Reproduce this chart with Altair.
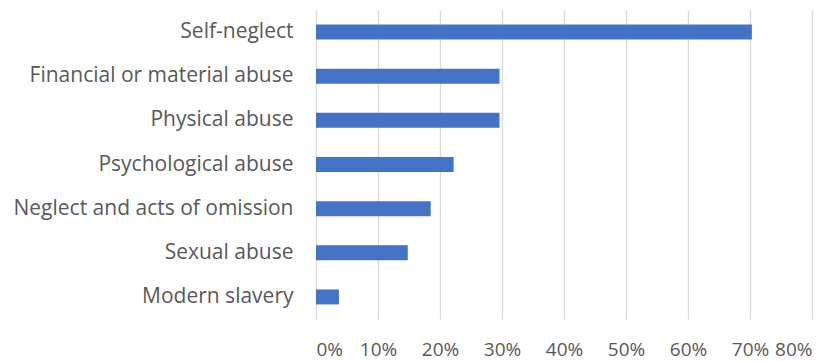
import altair as alt
import pandas as pd

categories = [
    "Self-neglect",
    "Financial or material abuse",
    "Physical abuse",
    "Psychological abuse",
    "Neglect and acts of omission",
    "Sexual abuse",
    "Modern slavery",
]
values = [0.703, 0.296, 0.296, 0.222, 0.185, 0.148, 0.037]
x_ticks = [0, 0.1, 0.2, 0.3, 0.4, 0.5, 0.6, 0.7, 0.8]

df = pd.DataFrame({"category": categories, "value": values})

FONT = "Open Sans"
TEXT = "#595959"
GRID = "#d9d9d9"

chart = (
    alt.Chart(df)
    .mark_bar(color="#4472C4")
    .encode(
        x=alt.X(
            "value:Q",
            scale=alt.Scale(domain=[0, 0.8], nice=False),
            axis=alt.Axis(
                values=x_ticks,
                format=".0%",
                title=None,
                grid=True,
                gridColor=GRID,
                gridWidth=1.3,
                domain=False,
                ticks=False,
                labelPadding=21,
                labelFontSize=19,
                labelFont=FONT,
                labelColor=TEXT,
            ),
        ),
        y=alt.Y(
            "category:N",
            sort=categories,
            scale=alt.Scale(paddingInner=0.66, paddingOuter=0.33),
            axis=alt.Axis(
                title=None,
                domain=False,
                ticks=False,
                labelPadding=23,
                labelFontSize=21,
                labelFont=FONT,
                labelColor=TEXT,
                labelLimit=400,
                minExtent=308,
                maxExtent=308,
            ),
        ),
    )
    .properties(width=496, height=309, padding={"left": 0, "top": 2, "right": 4, "bottom": 2})
    .configure(background="white")
    .configure_view(stroke=None, strokeWidth=0)
)

chart.save("out.html", embed_options={"renderer": "svg", "actions": False})
